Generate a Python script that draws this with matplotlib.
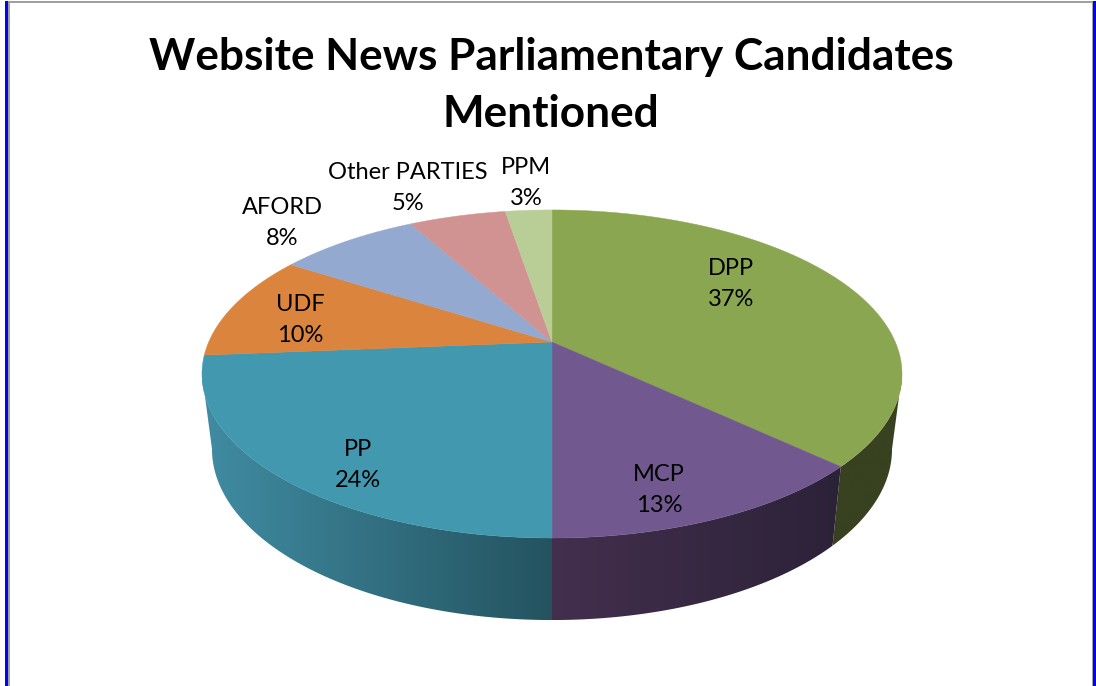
"""
Website news pie chart, drawn as a tilted 3D pie with perspective.
"""
import numpy as np
import matplotlib
matplotlib.use("Agg")
import matplotlib.pyplot as plt
from matplotlib.colors import to_rgb
from matplotlib.patches import Polygon, Rectangle

plt.rcParams["font.family"] = ["Lato", "DejaVu Sans"]

TITLE = "Website News Parliamentary Candidates\nMentioned"
parties = ["DPP", "MCP", "PP", "UDF", "AFORD", "Other PARTIES", "PPM"]
shares = [37, 13, 23.7, 10.4, 7.9, 5.4, 2.6]

top_colors = ["#8BA650", "#71588F", "#4198AF", "#DB843D", "#93A9CF", "#D19392", "#B9CD96"]
# wall colour at the left and right end of each visible slice
wall_colors = {
    "DPP": ("#384120", "#384120"),
    "MCP": ("#432F4E", "#2C2238"),
    "PP": ("#408CA3", "#24535F"),
}
label_xy = [(731, 284), (659, 490), (358, 465), (300, 320), (282, 223), (408, 188), (526, 183)]

# projection of the top and bottom rims, in pixels
CX = 552
TOP_RIM = dict(y0=342, a=157.8, b=343.3, k=0.195)
BOTTOM_RIM = dict(y0=415.7, a=164.5, b=333.5, k=0.195)
WALL_RANGE = (101.2, 258.8)


def project(angle, rim):
    """Map clockwise degrees from 12 o'clock onto a rim, in perspective."""
    theta = np.radians(angle)
    u, v = np.sin(theta), np.cos(theta)
    w = 1 + rim["k"] * v
    return CX + rim["b"] * u / w, rim["y0"] - rim["a"] * v / w


def draw_wall(ax, start, end, colors):
    """Draw one side wall as a horizontal gradient clipped to its outline."""
    arc = np.linspace(max(start, WALL_RANGE[0]), min(end, WALL_RANGE[1]), 120)
    top_x, top_y = project(arc, TOP_RIM)
    bot_x, bot_y = project(arc[::-1], BOTTOM_RIM)
    outline = np.column_stack([np.r_[top_x, bot_x], np.r_[top_y, bot_y]])
    x0, y0 = outline.min(axis=0)
    x1, y1 = outline.max(axis=0)

    c0, c1 = np.array(to_rgb(colors[0])), np.array(to_rgb(colors[1]))
    ramp = np.linspace(0, 1, 256)[None, :, None]
    gradient = c0 + (c1 - c0) * ramp
    image = ax.imshow(gradient, extent=(x0, x1, y1, y0), aspect="auto", interpolation="bilinear")
    patch = Polygon(outline, closed=True, facecolor="none", edgecolor="none")
    ax.add_patch(patch)
    image.set_clip_path(patch)


fig = plt.figure(figsize=(10.96, 6.86), dpi=100)
ax = fig.add_axes([0, 0, 1, 1])

# frame of the screenshot
ax.add_patch(Rectangle((5, 1), 3, 685, facecolor="#0000FF", edgecolor="none"))
ax.add_patch(Rectangle((8, 1), 2, 685, facecolor="#A0A0A0", edgecolor="none"))
ax.add_patch(Rectangle((1093, 1), 3, 685, facecolor="#0000FF", edgecolor="none"))
ax.add_patch(Rectangle((1091.5, 1), 1.5, 685, facecolor="#A0A0A0", edgecolor="none"))
ax.add_patch(Rectangle((8, 1), 1085, 2, facecolor="#A0A0A0", edgecolor="none"))

cum = np.cumsum([0] + shares) / sum(shares) * 360

# walls first, the top surface goes over them
for i, party in enumerate(parties):
    if party in wall_colors and cum[i + 1] > WALL_RANGE[0] and cum[i] < WALL_RANGE[1]:
        draw_wall(ax, cum[i], cum[i + 1], wall_colors[party])

for i, party in enumerate(parties):
    arc = np.linspace(cum[i], cum[i + 1], 120)
    x, y = project(arc, TOP_RIM)
    pts = [(CX, TOP_RIM["y0"])] + list(zip(x, y))
    ax.add_patch(Polygon(pts, closed=True, facecolor=top_colors[i], edgecolor=top_colors[i], linewidth=0.3, zorder=3))

for party, share, (lx, ly) in zip(parties, shares, label_xy):
    ax.text(lx, ly, f"{party}\n{round(share)}%", ha="center", va="center", fontsize=17,
            color="black", linespacing=1.63, zorder=4)

ax.text(551, 85.5, TITLE, ha="center", va="center", fontsize=31.8, fontweight="bold",
        color="black", linespacing=1.5, zorder=4)

# imshow resets the view, so set the pixel limits last
ax.set_xlim(0, 1096)
ax.set_ylim(686, 0)
ax.axis("off")

plt.savefig("out.png", dpi=100)
plt.close()
